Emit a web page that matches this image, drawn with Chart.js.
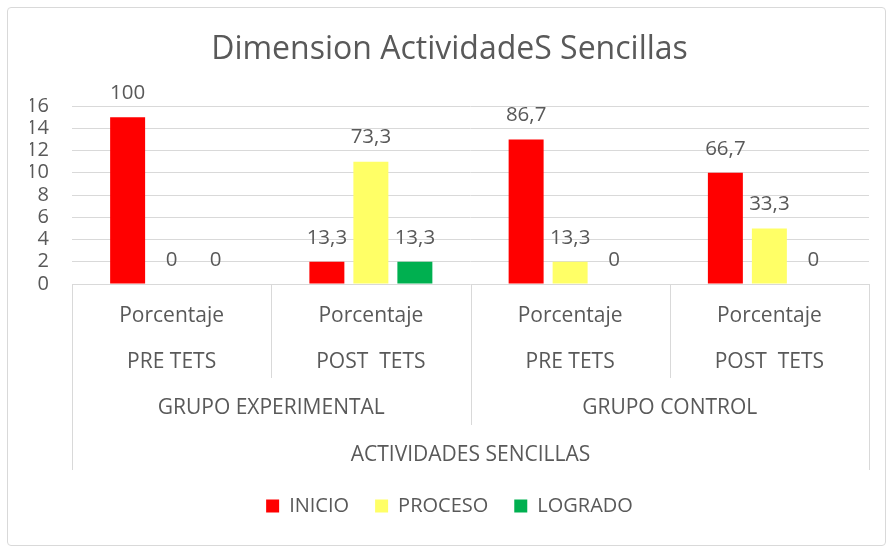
<!DOCTYPE html>
<html>
<head>
<meta charset="utf-8">
<script src="https://cdn.jsdelivr.net/npm/chart.js@4"></script>
<style>
  body { margin: 0; background: #fff; }
  #wrap { position: relative; width: 886px; height: 546px; }
  #frame { position: absolute; left: 7px; top: 7px; width: 877px; height: 537px;
           border: 1px solid #d9d9d9; border-radius: 4px; pointer-events: none; }
</style>
</head>
<body>
<div id="wrap">
  <canvas id="myChart" width="886" height="546"></canvas>
  <div id="frame"></div>
</div>
<script>
// datos
const categories = ["Porcentaje", "Porcentaje", "Porcentaje", "Porcentaje"];
const tests = ["PRE TETS", "POST  TETS", "PRE TETS", "POST  TETS"];
const groups = ["GRUPO EXPERIMENTAL", "GRUPO CONTROL"];
const dimension = "ACTIVIDADES SENCILLAS";

const inicio = [15, 2, 13, 10];
const proceso = [0, 11, 2, 5];
const logrado = [0, 2, 0, 0];

const inicioPct = [100, 13.3, 86.7, 66.7];
const procesoPct = [0, 73.3, 13.3, 33.3];
const logradoPct = [0, 13.3, 0, 0];

const yTicks = [0, 2, 4, 6, 8, 10, 12, 14, 16];

const textColor = "#595959";
const lineColor = "#d9d9d9";
const fontFam = "'Open Sans', sans-serif";

// etiquetas encima de las barras
const barLabels = {
  id: "barLabels",
  afterDatasetsDraw(chart) {
    const ctx = chart.ctx;
    ctx.save();
    ctx.font = "20.5px " + fontFam;
    ctx.fillStyle = textColor;
    ctx.textAlign = "center";
    ctx.textBaseline = "middle";
    chart.data.datasets.forEach((ds, i) => {
      const meta = chart.getDatasetMeta(i);
      meta.data.forEach((bar, j) => {
        const txt = String(ds.pct[j]).replace(".", ",");
        ctx.fillText(txt, bar.x, bar.y - 24);
      });
    });
    ctx.restore();
  },
};

// eje x con varios niveles
const multiAxis = {
  id: "multiAxis",
  afterDraw(chart) {
    const xs = chart.scales.x;
    const ctx = chart.ctx;
    const n = categories.length;
    const w = (xs.right - xs.left) / n;
    const top = xs.top;
    ctx.save();
    ctx.strokeStyle = lineColor;
    ctx.lineWidth = 1;
    const vline = (x, len) => {
      ctx.beginPath();
      ctx.moveTo(Math.round(x) + 0.5, top);
      ctx.lineTo(Math.round(x) + 0.5, top + len);
      ctx.stroke();
    };
    for (let i = 0; i <= n; i++) {
      const x = xs.left + i * w;
      if (i === 0 || i === n) vline(x, xs.bottom - top);
      else if (i === n / 2) vline(x, 141);
      else vline(x, 94);
    }
    ctx.font = "21px " + fontFam;
    ctx.fillStyle = textColor;
    ctx.textAlign = "center";
    ctx.textBaseline = "middle";
    for (let i = 0; i < n; i++) {
      const cx = xs.getPixelForValue(i);
      ctx.fillText(categories[i], cx, top + 32);
      ctx.fillText(tests[i], cx, top + 78);
    }
    const gw = (xs.right - xs.left) / groups.length;
    groups.forEach((g, i) => {
      ctx.fillText(g, xs.left + gw * (i + 0.5), top + 124);
    });
    ctx.fillText(dimension, (xs.left + xs.right) / 2, top + 171);
    ctx.restore();
  },
};

const canvas = document.getElementById("myChart");
new Chart(canvas, {
  type: "bar",
  data: {
    labels: categories,
    datasets: [
      { label: "INICIO", data: inicio, pct: inicioPct, backgroundColor: "#ff0000" },
      { label: "PROCESO", data: proceso, pct: procesoPct, backgroundColor: "#ffff66" },
      { label: "LOGRADO", data: logrado, pct: logradoPct, backgroundColor: "#00b050" },
    ],
  },
  options: {
    responsive: false,
    animation: false,
    events: [],
    layout: { padding: { left: 30, right: 17, top: 0, bottom: 20 } },
    datasets: {
      bar: { categoryPercentage: 0.6625, barPercentage: 0.795 },
    },
    scales: {
      x: {
        ticks: { display: false },
        grid: { display: false },
        border: { display: false },
        afterFit: (scale) => { scale.height = 186; },
      },
      y: {
        min: 0,
        max: 16,
        afterBuildTicks: (scale) => { scale.ticks = yTicks.map((v) => ({ value: v })); },
        ticks: {
          color: textColor,
          font: { family: fontFam, size: 20 },
          padding: 23,
          autoSkip: false,
        },
        grid: { color: lineColor, lineWidth: 1, drawTicks: false },
        border: { display: false },
        afterFit: (scale) => { scale.width = 42; },
      },
    },
    plugins: {
      title: {
        display: true,
        text: "Dimension ActividadeS Sencillas",
        color: textColor,
        font: { family: fontFam, size: 32, weight: "normal" },
        padding: { top: 31, bottom: 36.6 },
      },
      legend: {
        position: "bottom",
        labels: {
          color: textColor,
          font: { family: fontFam, size: 20 },
          boxWidth: 13,
          boxHeight: 13,
          padding: 26,
        },
      },
      tooltip: { enabled: false },
    },
  },
  plugins: [barLabels, multiAxis],
});
</script>
</body>
</html>
